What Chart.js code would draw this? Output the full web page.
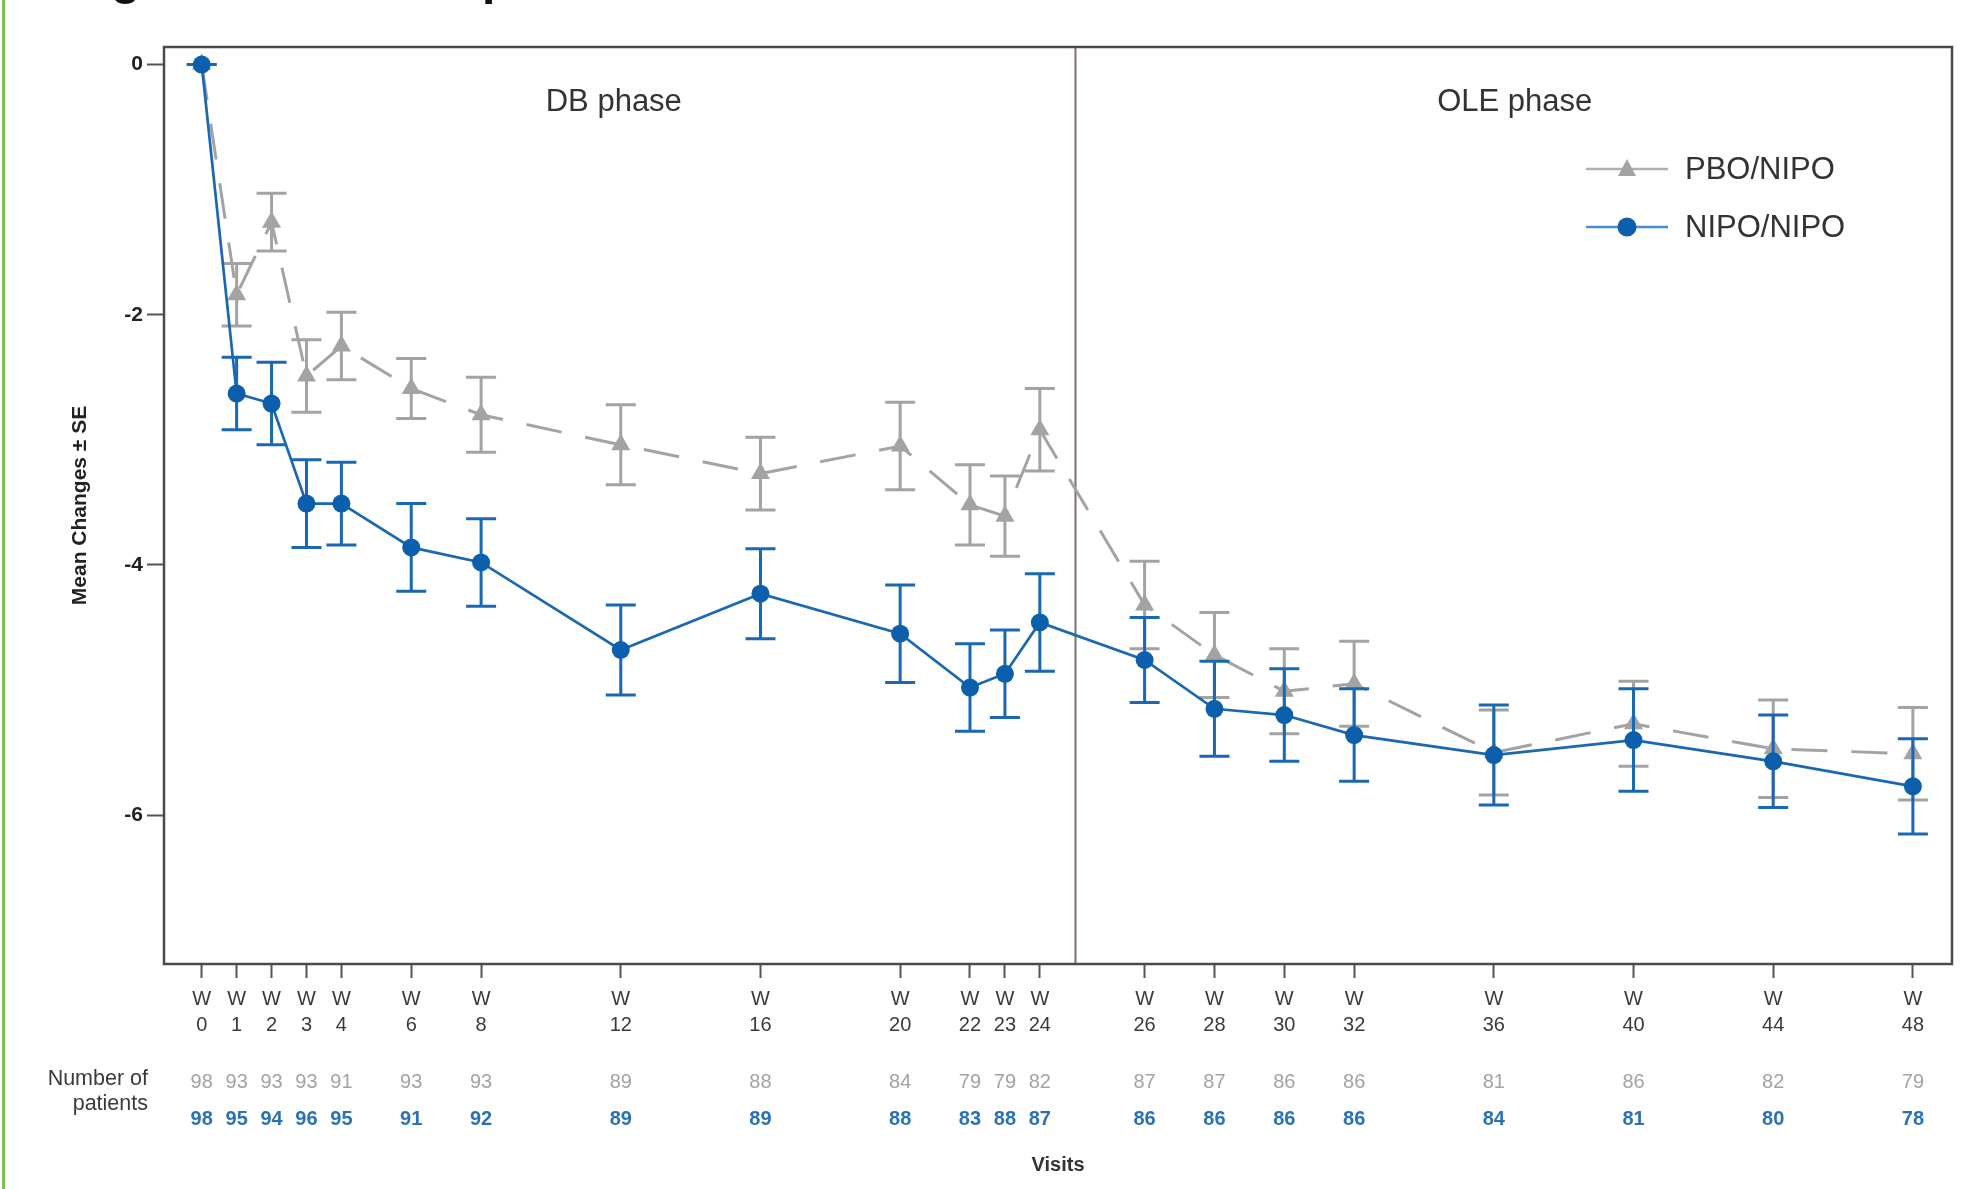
<!DOCTYPE html>
<html>
<head>
<meta charset="utf-8">
<script src="https://cdn.jsdelivr.net/npm/chart.js@4.4.1/dist/chart.umd.min.js"></script>
<style>
  html, body { margin: 0; padding: 0; background: #ffffff; }
  #wrap { width: 1982px; height: 1189px; }
</style>
</head>
<body>
<div id="wrap"><canvas id="c" width="1982" height="1189"></canvas></div>
<script>
// ---- data ----
const weeks = [0, 1, 2, 3, 4, 6, 8, 12, 16, 20, 22, 23, 24, 26, 28, 30, 32, 36, 40, 44, 48];
const pboMean = [0, -1.84, -1.26, -2.49, -2.25, -2.59, -2.80, -3.04, -3.27, -3.05, -3.52, -3.61, -2.92, -4.32, -4.72, -5.01, -4.95, -5.50, -5.27, -5.47, -5.51];
const pboSE   = [0, 0.25, 0.23, 0.29, 0.27, 0.24, 0.30, 0.32, 0.29, 0.35, 0.32, 0.32, 0.33, 0.35, 0.34, 0.34, 0.34, 0.34, 0.34, 0.39, 0.37];
const nipoMean = [0, -2.63, -2.71, -3.51, -3.51, -3.86, -3.98, -4.68, -4.23, -4.55, -4.98, -4.87, -4.46, -4.76, -5.15, -5.20, -5.36, -5.52, -5.40, -5.57, -5.77];
const nipoSE   = [0, 0.29, 0.33, 0.35, 0.33, 0.35, 0.35, 0.36, 0.36, 0.39, 0.35, 0.35, 0.39, 0.34, 0.38, 0.37, 0.37, 0.40, 0.41, 0.37, 0.38];
const pboN  = [98, 93, 93, 93, 91, 93, 93, 89, 88, 84, 79, 79, 82, 87, 87, 86, 86, 81, 86, 82, 79];
const nipoN = [98, 95, 94, 96, 95, 91, 92, 89, 89, 88, 83, 88, 87, 86, 86, 86, 86, 84, 81, 80, 78];
const yTickValues = [0, -2, -4, -6];
const seriesNames = ['PBO/NIPO', 'NIPO/NIPO'];
const phaseNames = ['DB phase', 'OLE phase'];
const dbLastWeek = 24;

// axis position: OLE visits are drawn one slot further right (gap at the phase boundary)
const pos = weeks.map(w => w > dbLastWeek ? w + 1 : w);
const sepPos = dbLastWeek + 1;

const GRAY = '#a3a3a3';
const BLUE = '#0b5fad';
const BLUE_LINE = '#1a68b3';
const FONT = '"Liberation Sans", Arial, Helvetica, sans-serif';

const pboData = pos.map((p, i) => ({x: p, y: pboMean[i]}));
const nipoData = pos.map((p, i) => ({x: p, y: nipoMean[i]}));

const errSets = [
  {mean: pboMean, se: pboSE, color: GRAY},
  {mean: nipoMean, se: nipoSE, color: BLUE_LINE}
];

const custom = {
  id: 'custom',
  beforeDatasetsDraw(chart) {
    const {ctx, chartArea: a, scales: {x}} = chart;
    const sx = Math.round(x.getPixelForValue(sepPos)) + 0.5;
    ctx.save();
    ctx.strokeStyle = '#7f706c';
    ctx.lineWidth = 2;
    ctx.beginPath();
    ctx.moveTo(sx, a.top);
    ctx.lineTo(sx, a.bottom);
    ctx.stroke();
    ctx.restore();
  },
  beforeDatasetDraw(chart, args) {
    const ds = chart.data.datasets[args.index];
    const e = errSets[ds.errIndex];
    const {ctx, chartArea: a, scales: {x, y}} = chart;
    ctx.save();
    ctx.beginPath();
    ctx.rect(a.left, a.top, a.right - a.left, a.bottom - a.top);
    ctx.clip();
    ctx.strokeStyle = e.color;
    ctx.lineWidth = 3;
    ctx.setLineDash([]);
    const half = 15;
    for (let i = 0; i < pos.length; i++) {
      const px = x.getPixelForValue(pos[i]);
      const yt = y.getPixelForValue(e.mean[i] + e.se[i]);
      const yb = y.getPixelForValue(e.mean[i] - e.se[i]);
      ctx.beginPath();
      ctx.moveTo(px, yt); ctx.lineTo(px, yb);
      ctx.moveTo(px - half, yt); ctx.lineTo(px + half, yt);
      ctx.moveTo(px - half, yb); ctx.lineTo(px + half, yb);
      ctx.stroke();
    }
    ctx.restore();
  },
  afterDraw(chart) {
    const {ctx, chartArea: a, scales: {x, y}} = chart;
    ctx.save();
    // plot frame
    ctx.strokeStyle = '#4a4a4a';
    ctx.lineWidth = 2.5;
    ctx.strokeRect(a.left, a.top, a.right - a.left, a.bottom - a.top);

    // phase labels
    ctx.fillStyle = '#333333';
    ctx.font = '31px ' + FONT;
    ctx.textAlign = 'center';
    ctx.textBaseline = 'middle';
    ctx.fillText(phaseNames[0], x.getPixelForValue(11.8), 102);
    ctx.fillText(phaseNames[1], x.getPixelForValue(37.6), 102);

    // legend
    const legendRows = [
      {name: seriesNames[0], color: GRAY, y: 169, marker: 'tri'},
      {name: seriesNames[1], color: BLUE, y: 227, marker: 'circle'}
    ];
    legendRows.forEach(r => {
      ctx.strokeStyle = r.marker === 'tri' ? '#b0b0b0' : '#4a8ccc';
      ctx.lineWidth = 2.5;
      ctx.beginPath();
      ctx.moveTo(1586, r.y); ctx.lineTo(1668, r.y);
      ctx.stroke();
      ctx.fillStyle = r.color;
      ctx.beginPath();
      if (r.marker === 'tri') {
        ctx.moveTo(1627, r.y - 10);
        ctx.lineTo(1636, r.y + 7);
        ctx.lineTo(1618, r.y + 7);
        ctx.closePath();
      } else {
        ctx.arc(1627, r.y, 9.5, 0, Math.PI * 2);
      }
      ctx.fill();
      ctx.fillStyle = '#333333';
      ctx.font = '31px ' + FONT;
      ctx.textAlign = 'left';
      ctx.textBaseline = 'middle';
      ctx.fillText(r.name, 1685, r.y + 1);
    });

    // y axis title
    ctx.save();
    ctx.translate(80, (a.top + a.bottom) / 2);
    ctx.rotate(-Math.PI / 2);
    ctx.fillStyle = '#222222';
    ctx.font = 'bold 21px ' + FONT;
    ctx.textAlign = 'center';
    ctx.textBaseline = 'middle';
    ctx.fillText('Mean Changes \u00b1 SE', 0, 0);
    ctx.restore();

    // number of patients
    ctx.fillStyle = '#3a3a3a';
    ctx.font = '21.5px ' + FONT;
    ctx.textAlign = 'right';
    ctx.textBaseline = 'middle';
    ctx.fillText('Number of', 148, 1079);
    ctx.fillText('patients', 148, 1104);
    ctx.textAlign = 'center';
    for (let i = 0; i < pos.length; i++) {
      const px = x.getPixelForValue(pos[i]);
      ctx.fillStyle = GRAY;
      ctx.font = '20px ' + FONT;
      ctx.fillText(String(pboN[i]), px, 1082);
      ctx.fillStyle = '#2a72b8';
      ctx.font = 'bold 20px ' + FONT;
      ctx.fillText(String(nipoN[i]), px, 1119);
    }

    // x axis title
    ctx.fillStyle = '#333333';
    ctx.font = 'bold 20px ' + FONT;
    ctx.fillText('Visits', (a.left + a.right) / 2, 1165);

    // cut-off page title remnants and page edge line
    ctx.fillStyle = '#111111';
    ctx.font = 'bold 48px ' + FONT;
    ctx.textAlign = 'left';
    ctx.textBaseline = 'alphabetic';
    ctx.fillText('g', 111, -6);
    ctx.fillText('p', 482, -6);
    ctx.fillStyle = '#7cc24c';
    ctx.fillRect(2, 0, 3, 1189);
    ctx.restore();
  }
};

new Chart(document.getElementById('c'), {
  type: 'line',
  data: {
    datasets: [
      {
        label: seriesNames[0],
        data: pboData,
        errIndex: 0,
        order: 2,
        borderColor: GRAY,
        borderWidth: 3,
        borderDash: [36, 24],
        pointStyle: 'triangle',
        pointRadius: 11,
        pointBackgroundColor: GRAY,
        pointBorderColor: GRAY,
        pointBorderWidth: 0,
        tension: 0,
        fill: false
      },
      {
        label: seriesNames[1],
        data: nipoData,
        errIndex: 1,
        order: 1,
        borderColor: BLUE_LINE,
        borderWidth: 2.7,
        pointStyle: 'circle',
        pointRadius: 9,
        pointBackgroundColor: BLUE,
        pointBorderColor: BLUE,
        pointBorderWidth: 0,
        tension: 0,
        fill: false
      }
    ]
  },
  options: {
    responsive: false,
    animation: false,
    events: [],
    layout: { padding: { left: 0, top: 47, right: 30, bottom: 0 } },
    plugins: { legend: { display: false }, tooltip: { enabled: false }, title: { display: false } },
    scales: {
      x: {
        type: 'linear',
        min: -1.08,
        max: 50.12,
        border: { display: false },
        grid: { drawOnChartArea: false, drawTicks: true, tickLength: 14, tickColor: '#555555', tickWidth: 2 },
        afterBuildTicks(scale) { scale.ticks = pos.map(p => ({value: p})); },
        afterFit(scale) { scale.height = 225; },
        ticks: {
          autoSkip: false,
          maxRotation: 0,
          minRotation: 0,
          padding: 9,
          color: '#3a3a3a',
          font: { family: FONT, size: 20, lineHeight: 1.28 },
          callback(value) {
            const i = pos.indexOf(value);
            return i >= 0 ? ['W', String(weeks[i])] : '';
          }
        }
      },
      y: {
        type: 'linear',
        min: -7.19,
        max: 0.14,
        border: { display: false },
        grid: { drawOnChartArea: false, drawTicks: true, tickLength: 17, tickColor: '#555555', tickWidth: 2 },
        afterBuildTicks(scale) { scale.ticks = yTickValues.map(v => ({value: v})); },
        afterFit(scale) { scale.width = 164; },
        ticks: {
          padding: 4,
          color: '#222222',
          font: { family: FONT, size: 21, weight: 'bold' },
          callback(value) { return String(value); }
        }
      }
    }
  },
  plugins: [custom]
});
</script>
</body>
</html>
